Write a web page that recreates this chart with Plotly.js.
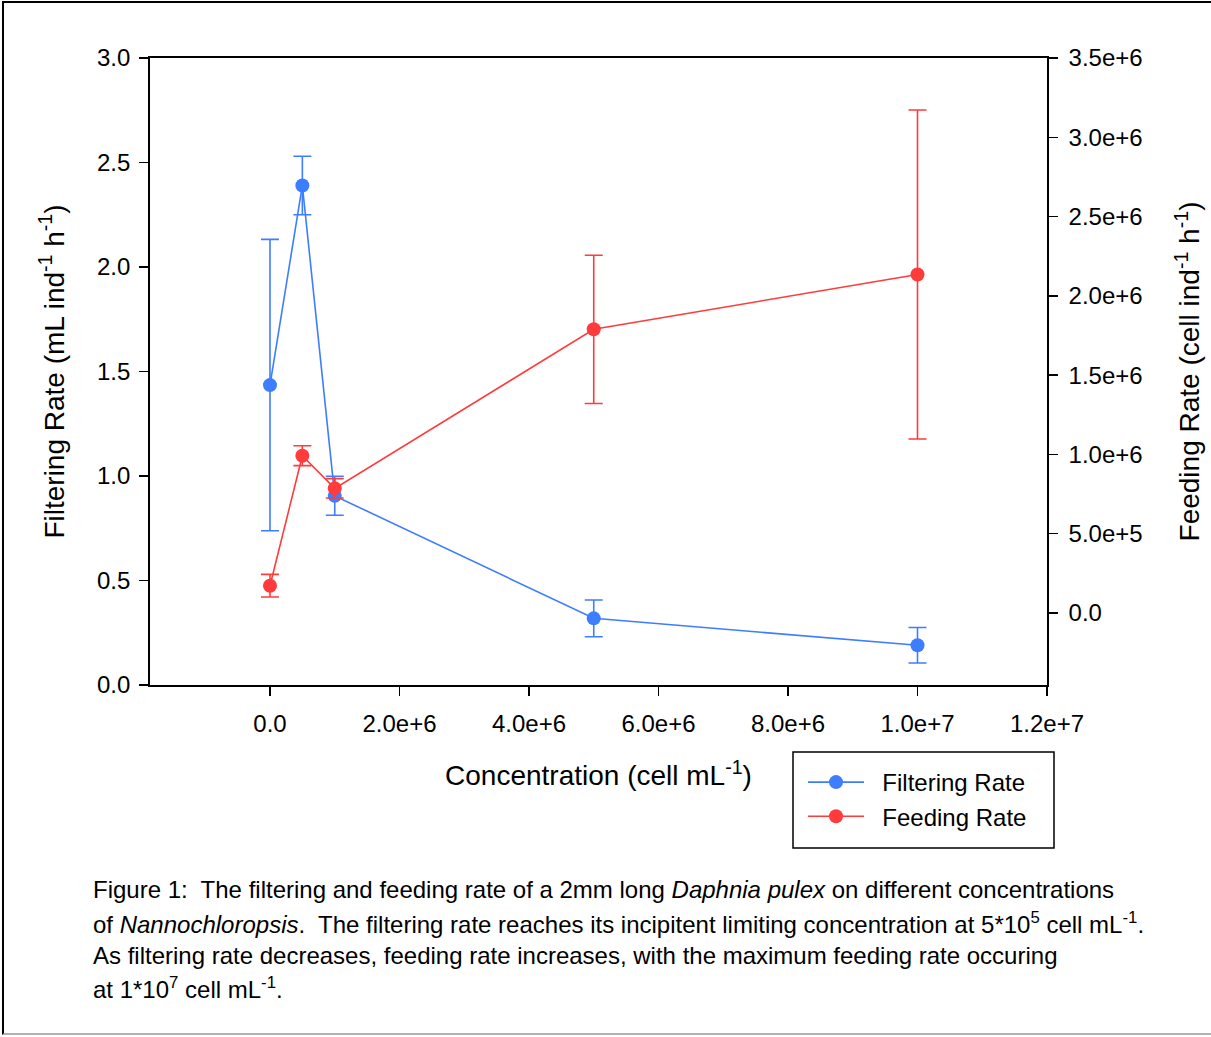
<!DOCTYPE html>
<html>
<head>
<meta charset="utf-8">
<script src="https://cdn.plot.ly/plotly-3.0.1.min.js"></script>
<style>
html, body { margin: 0; padding: 0; background: #fff; }
#wrap { position: relative; width: 1211px; height: 1037px; }
#chart { width: 1211px; height: 1037px; }
#frame { position: absolute; left: 2px; top: 1px; width: 1215px; height: 1034px; border-top: 2px solid #000; border-left: 2px solid #000; border-bottom: 2px solid #b0b0b0; box-sizing: border-box; pointer-events: none; }
</style>
</head>
<body>
<div id="wrap">
<div id="chart"></div>
<div id="frame"></div>
</div>
<script>
// Data
const concentration = [0, 500000, 1000000, 5000000, 10000000];
const filteringRate = [1.435, 2.39, 0.905, 0.319, 0.19];
const filteringErr = [0.697, 0.14, 0.093, 0.088, 0.085];
const feedingRate = [172000, 992000, 786000, 1789000, 2135000];
const feedingErr = [71500, 62500, 61000, 467500, 1037500];

const xTickVals = [0, 2000000, 4000000, 6000000, 8000000, 10000000, 12000000];
const xTickText = ["0.0", "2.0e+6", "4.0e+6", "6.0e+6", "8.0e+6", "1.0e+7", "1.2e+7"];
const yTickVals = [0, 0.5, 1.0, 1.5, 2.0, 2.5, 3.0];
const yTickText = ["0.0", "0.5", "1.0", "1.5", "2.0", "2.5", "3.0"];
const y2TickVals = [0, 500000, 1000000, 1500000, 2000000, 2500000, 3000000, 3500000];
const y2TickText = ["0.0", "5.0e+5", "1.0e+6", "1.5e+6", "2.0e+6", "2.5e+6", "3.0e+6", "3.5e+6"];

const seriesNames = ["Filtering Rate", "Feeding Rate"];

const captionLines = [
  "Figure 1:  The filtering and feeding rate of a 2mm long <i>Daphnia pulex</i> on different concentrations",
  "of <i>Nannochloropsis</i>.  The filtering rate reaches its incipitent limiting concentration at 5*10<sup>5</sup> cell mL<sup>-1</sup>.",
  "As filtering rate decreases, feeding rate increases, with the maximum feeding rate occuring",
  "at 1*10<sup>7</sup> cell mL<sup>-1</sup>."
];

const BLUE = "#3d7dff";
const RED = "#ff3b3b";
const FONT = "Liberation Sans, Arial, sans-serif";
const PAD = "\u00a0\u00a0";

const traces = [
  {
    x: concentration, y: filteringRate, name: PAD + seriesNames[0],
    type: "scatter", mode: "lines+markers",
    line: { color: BLUE, width: 1.6 },
    marker: { color: BLUE, size: 14 },
    error_y: { type: "data", array: filteringErr, visible: true, color: BLUE, thickness: 1.6, width: 9 },
    xaxis: "x", yaxis: "y"
  },
  {
    x: concentration, y: feedingRate, name: PAD + seriesNames[1],
    type: "scatter", mode: "lines+markers",
    line: { color: RED, width: 1.6 },
    marker: { color: RED, size: 14 },
    error_y: { type: "data", array: feedingErr, visible: true, color: RED, thickness: 1.6, width: 9 },
    xaxis: "x", yaxis: "y2"
  }
];

const W = 897, H = 627, L = 150, T = 58;
function px2paperX(px) { return (px - L) / W; }
function px2paperY(py) { return (T + H - py) / H; }

const captionY = [889, 923, 955, 988];
const annotations = captionLines.map((t, i) => ({
  text: t, xref: "paper", yref: "paper",
  x: px2paperX(91), y: px2paperY(captionY[i]),
  xanchor: "left", yanchor: "middle", showarrow: false, align: "left",
  font: { family: FONT, size: 24, color: "#000" }
}));

const layout = {
  width: 1211, height: 1037,
  margin: { l: 150, r: 164, t: 58, b: 352 },
  paper_bgcolor: "#fff", plot_bgcolor: "#fff",
  showlegend: true,
  font: { family: FONT, color: "#000" },
  xaxis: {
    range: [-1853000, 12000000],
    tickmode: "array", tickvals: xTickVals, ticktext: xTickText,
    ticks: "outside", ticklen: 9, tickwidth: 1.5, tickcolor: "#000",
    ticklabelstandoff: 7,
    showline: true, linecolor: "#000", linewidth: 1.8, mirror: true,
    showgrid: false, zeroline: false,
    tickfont: { family: FONT, size: 24, color: "#000" },
    title: { text: "Concentration (cell mL<sup>-1</sup>)", font: { family: FONT, size: 28, color: "#000" }, standoff: 30 }
  },
  yaxis: {
    range: [0, 3.0],
    tickmode: "array", tickvals: yTickVals, ticktext: yTickText,
    ticks: "outside", ticklen: 9, tickwidth: 1.5, tickcolor: "#000",
    ticklabelstandoff: 4,
    showline: true, linecolor: "#000", linewidth: 1.8,
    showgrid: false, zeroline: false,
    tickfont: { family: FONT, size: 24, color: "#000" },
    title: { text: "Filtering Rate (mL ind<sup>-1</sup> h<sup>-1</sup>)", font: { family: FONT, size: 28, color: "#000" }, standoff: 24 }
  },
  yaxis2: {
    overlaying: "y", side: "right",
    range: [-454000, 3500000],
    tickmode: "array", tickvals: y2TickVals, ticktext: y2TickText,
    ticks: "outside", ticklen: 9, tickwidth: 1.5, tickcolor: "#000",
    ticklabelstandoff: 6,
    showline: true, linecolor: "#000", linewidth: 1.8,
    showgrid: false, zeroline: false,
    tickfont: { family: FONT, size: 24, color: "#000" },
    title: { text: "Feeding Rate (cell ind<sup>-1</sup> h<sup>-1</sup>)", font: { family: FONT, size: 28, color: "#000" }, standoff: 38 }
  },
  legend: {
    x: px2paperX(803), y: px2paperY(760), xanchor: "left", yanchor: "top",
    bgcolor: "rgba(0,0,0,0)", borderwidth: 0,
    font: { family: FONT, size: 24, color: "#000" },
    itemwidth: 56, tracegroupgap: 0
  },
  shapes: [
    {
      type: "rect", xref: "paper", yref: "paper",
      x0: px2paperX(793), x1: px2paperX(1054), y0: px2paperY(848), y1: px2paperY(752),
      line: { color: "#000", width: 1.5 }, fillcolor: "rgba(0,0,0,0)"
    }
  ],
  annotations: annotations
};

Plotly.newPlot("chart", traces, layout, { displayModeBar: false, staticPlot: true });
</script>
</body>
</html>
